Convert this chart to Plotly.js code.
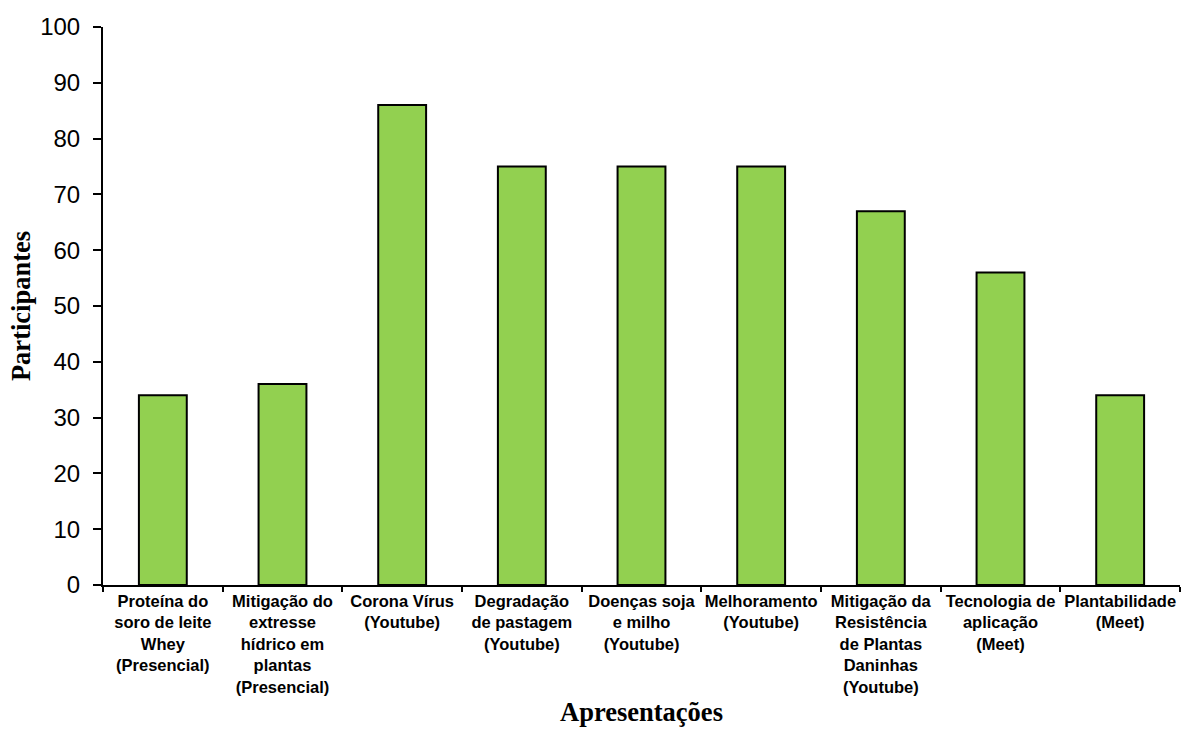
<!DOCTYPE html>
<html>
<head>
<meta charset="utf-8">
<script src="https://cdn.plot.ly/plotly-3.0.1.min.js"></script>
<style>html,body{margin:0;padding:0;background:#fff;}#chart{width:1182px;height:729px;}</style>
</head>
<body>
<div id="chart"></div>
<script>
const categories = [
  "Proteína do<br>soro de leite<br>Whey<br>(Presencial)",
  "Mitigação do<br>extresse<br>hídrico em<br>plantas<br>(Presencial)",
  "Corona Vírus<br>(Youtube)",
  "Degradação<br>de pastagem<br>(Youtube)",
  "Doenças soja<br>e milho<br>(Youtube)",
  "Melhoramento<br>(Youtube)",
  "Mitigação da<br>Resistência<br>de Plantas<br>Daninhas<br>(Youtube)",
  "Tecnologia de<br>aplicação<br>(Meet)",
  "Plantabilidade<br>(Meet)"
];
const participantes = [34, 36, 86, 75, 75, 75, 67, 56, 34];
const yTicks = [0, 10, 20, 30, 40, 50, 60, 70, 80, 90, 100];

const trace = {
  type: 'bar',
  x: categories,
  y: participantes,
  marker: {color: '#92D050', line: {color: '#000000', width: 2}},
  hoverinfo: 'none'
};

const layout = {
  width: 1182,
  height: 729,
  margin: {l: 103, r: 2, t: 27, b: 144, pad: 0},
  paper_bgcolor: '#ffffff',
  plot_bgcolor: '#ffffff',
  showlegend: false,
  bargap: 0.6,
  xaxis: {
    type: 'category',
    showline: true,
    linecolor: '#000000',
    linewidth: 2,
    ticks: 'outside',
    tickson: 'boundaries',
    ticklen: 5,
    tickwidth: 2,
    tickcolor: '#000000',
    showgrid: false,
    zeroline: false,
    automargin: false,
    tickangle: 0,
    tickfont: {family: 'Liberation Sans, Arial, sans-serif', size: 16.5, color: '#000000', weight: 'bold'},
    title: {
      text: '<b>Apresentações</b>',
      font: {family: 'Liberation Serif, Times New Roman, serif', size: 26.5, color: '#000000'},
      standoff: 8
    }
  },
  yaxis: {
    range: [0, 100],
    tickvals: yTicks,
    ticktext: yTicks.map(String),
    showline: true,
    linecolor: '#000000',
    linewidth: 2,
    ticks: 'outside',
    ticklen: 8,
    tickwidth: 2,
    tickcolor: '#000000',
    showgrid: false,
    zeroline: false,
    automargin: false,
    ticklabelstandoff: 8,
    tickfont: {family: 'Liberation Sans, Arial, sans-serif', size: 24, color: '#000000'},
    title: {
      text: '<b>Participantes</b>',
      font: {family: 'Liberation Serif, Times New Roman, serif', size: 26.5, color: '#000000'},
      standoff: 2
    }
  }
};

Plotly.newPlot('chart', [trace], layout, {displayModeBar: false, staticPlot: true});
</script>
</body>
</html>
